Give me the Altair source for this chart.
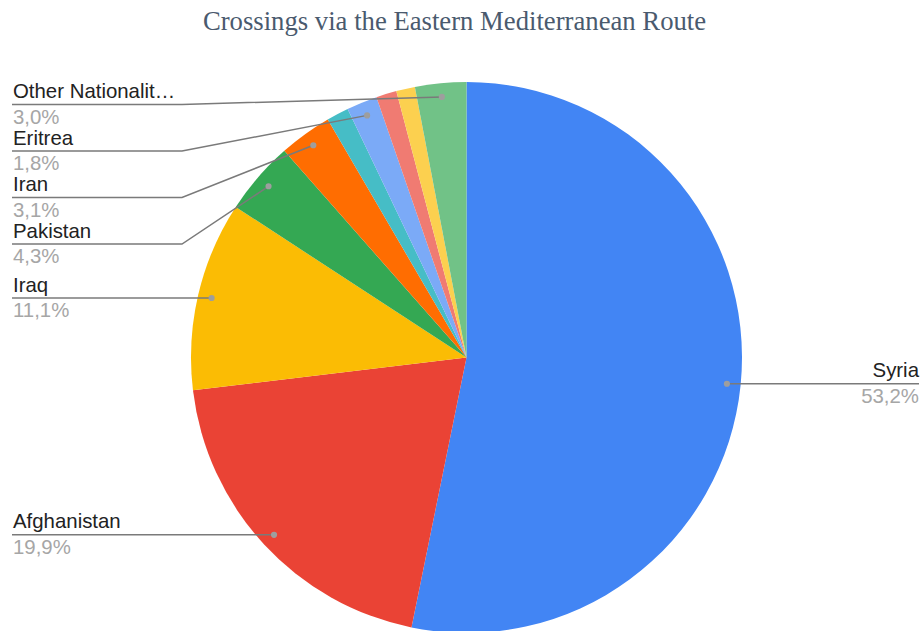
import math
import altair as alt
import pandas as pd

# ---- data ----
names = ["Syria", "Afghanistan", "Iraq", "Pakistan", "Iran",
         "Unnamed 1", "Eritrea", "Unnamed 2", "Unnamed 3", "Other Nationalities"]
shown_labels = ["Syria", "Afghanistan", "Iraq", "Pakistan", "Iran",
                "", "Eritrea", "", "", "Other Nationalit\u2026"]
values = [53.2, 19.9, 11.1, 4.3, 3.1, 1.3, 1.8, 1.2, 1.1, 3.0]
colors = ["#4285F4", "#EA4335", "#FBBC04", "#34A853", "#FF6D01",
          "#46BDC6", "#7BAAF7", "#F07B72", "#FCD04F", "#71C287"]
title_text = "Crossings via the Eastern Mediterranean Route"

# ---- layout constants ----
W, H = 923, 631
CX, CY, R = 466.5, 357.5, 275.5
DOT_R = 0.95 * R
LEFT_X, ELBOW_X, RIGHT_X = 13, 182, 919
LINE_GAP, TOP_LINE = 46.5, 104.5

total = sum(values)
slices = pd.DataFrame({"name": names, "value": values, "order": range(len(names))})

# label anchor points derived from the slice angles
cum = 0.0
rows = []
for n, lab, v in zip(names, shown_labels, values):
    mid = (cum + v / 2) / total * 2 * math.pi
    cum += v
    if not lab:
        continue
    dx, dy = CX + DOT_R * math.sin(mid), CY - DOT_R * math.cos(mid)
    pct = f"{v / total * 100:.1f}".replace(".", ",") + "%"
    rows.append(dict(name=n, label=lab, pct=pct, dx=dx, dy=dy,
                     side="right" if math.sin(mid) > 0 else "left"))

# stack left labels from top
left = sorted([r for r in rows if r["side"] == "left"], key=lambda r: r["dy"])
prev = None
for r in left:
    ly = max(r["dy"], TOP_LINE if prev is None else prev + LINE_GAP)
    r["ly"] = ly
    prev = ly
for r in rows:
    if r["side"] == "right":
        r["ly"] = r["dy"]

line_pts, texts, dots = [], [], []
for r in rows:
    if r["side"] == "left":
        pts = [(LEFT_X - 1, r["ly"]), (ELBOW_X, r["ly"]), (r["dx"], r["dy"])]
        tx, al = LEFT_X, "left"
    else:
        pts = [(r["dx"], r["dy"]), (RIGHT_X, r["ly"])]
        tx, al = RIGHT_X, "right"
    for i, (px, py) in enumerate(pts):
        line_pts.append(dict(name=r["name"], i=i, x=px, y=py))
    texts.append(dict(t=r["label"], x=tx, y=r["ly"] - 6.5, side=al, kind="name"))
    texts.append(dict(t=r["pct"], x=tx, y=r["ly"] + 19, side=al, kind="pct"))
    dots.append(dict(x=r["dx"], y=r["dy"]))

xs = alt.Scale(domain=[0, W], range=[0, W])
ys = alt.Scale(domain=[0, H], range=[0, H])

pie = alt.Chart(slices).mark_arc(outerRadius=R).encode(
    theta=alt.Theta("value:Q", stack=True),
    order=alt.Order("order:Q"),
    color=alt.Color("name:N", scale=alt.Scale(domain=names, range=colors), legend=None),
    x=alt.value(CX), y=alt.value(CY),
)

leaders = alt.Chart(pd.DataFrame(line_pts)).mark_line(
    color="#7a7a7a", strokeWidth=1.5
).encode(
    x=alt.X("x:Q", scale=xs, axis=None),
    y=alt.Y("y:Q", scale=ys, axis=None),
    detail="name:N", order="i:Q",
)

dot_layer = alt.Chart(pd.DataFrame(dots)).mark_circle(
    color="#9e9e9e", size=38, opacity=1
).encode(x=alt.X("x:Q", scale=xs, axis=None), y=alt.Y("y:Q", scale=ys, axis=None))

tdf = pd.DataFrame(texts)
def text_layer(kind, al, color):
    d = tdf[(tdf["kind"] == kind) & (tdf["side"] == al)].reset_index(drop=True)
    return alt.Chart(d).mark_text(
        align=al, baseline="alphabetic", font="Liberation Sans", fontSize=20.4, color=color
    ).encode(x=alt.X("x:Q", scale=xs, axis=None), y=alt.Y("y:Q", scale=ys, axis=None), text="t:N")

title_layer = alt.Chart(pd.DataFrame({"t": [title_text], "x": [W / 2 - 7], "y": [29.5]})).mark_text(
    align="center", baseline="alphabetic", font="Liberation Serif", fontSize=26.7, color="#4a5a6e"
).encode(x=alt.X("x:Q", scale=xs, axis=None), y=alt.Y("y:Q", scale=ys, axis=None), text="t:N")

chart = alt.layer(
    pie, leaders, dot_layer,
    text_layer("name", "left", "#222222"), text_layer("name", "right", "#222222"),
    text_layer("pct", "left", "#a6a6a6"), text_layer("pct", "right", "#a6a6a6"),
    title_layer,
).properties(
    width=W, height=H, autosize=alt.AutoSizeParams(type="none"), padding=0,
    background="white",
).configure_view(stroke=None)

chart.save("out.html", embed_options={"renderer": "svg", "actions": False})
